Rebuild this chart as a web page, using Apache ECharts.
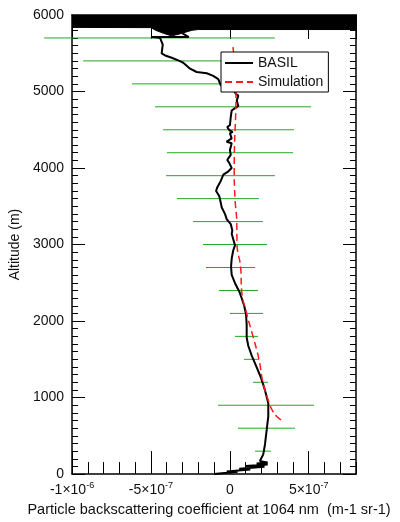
<!DOCTYPE html>
<html>
<head>
<meta charset="utf-8">
<script src="https://cdn.jsdelivr.net/npm/echarts@6/dist/echarts.min.js"></script>
<style>
html,body{margin:0;padding:0;background:#fff;}
#chart{width:400px;height:522px;}
</style>
</head>
<body>
<div id="chart"></div>
<script>
// ---------------- DATA ----------------
// BASIL profile: altitude (m) and backscatter (m-1 sr-1)
var basilAlt = [5760, 5712, 5714, 5705, 5700, 5613, 5497, 5471, 5441, 5397, 5376, 5299, 5255, 5239, 5204, 5161, 5084, 5050, 5023, 4968, 4946, 4881, 4809, 4783, 4752, 4667, 4559, 4538, 4494, 4473, 4452, 4387, 4344, 4323, 4236, 4172, 4107, 4065, 4000, 3957, 3914, 3828, 3750, 3699, 3635, 3591, 3484, 3397, 3333, 3268, 3183, 3140, 2989, 2925, 2817, 2710, 2603, 2495, 2387, 2301, 2194, 2086, 1957, 1785, 1677, 1548, 1419, 1269, 1097, 925, 753, 581, 387, 258, 172, 150, 140, 125, 105, 95, 70, 60, 35, 30, 10, 0];
var basilVal = [-3.0e-7, -2.6e-7, -5.0e-7, -4.6e-7, -4.42e-7, -4.25e-7, -4.32e-7, -4.1e-7, -3.68e-7, -3.16e-7, -2.95e-7, -2.52e-7, -2.10e-7, -1.46e-7, -1.05e-7, -0.73e-7, -0.58e-7, -0.2e-7, 0.22e-7, 0.39e-7, 0.54e-7, 0.44e-7, 0.54e-7, 0.33e-7, 0.12e-7, 0.06e-7, 0.01e-7, -0.16e-7, -0.03e-7, 0.18e-7, 0.01e-7, 0.12e-7, -0.20e-7, 0.12e-7, 0.01e-7, 0.06e-7, -0.16e-7, -0.03e-7, 0.12e-7, -0.09e-7, -0.41e-7, -0.58e-7, -0.79e-7, -0.87e-7, -0.67e-7, -0.62e-7, -0.51e-7, -0.30e-7, -0.20e-7, 0.06e-7, 0.16e-7, 0.12e-7, 0.33e-7, 0.22e-7, 0.12e-7, 0.08e-7, 0.12e-7, 0.33e-7, 0.60e-7, 0.75e-7, 0.92e-7, 1.03e-7, 1.07e-7, 1.07e-7, 1.17e-7, 1.39e-7, 1.66e-7, 1.96e-7, 2.23e-7, 2.44e-7, 2.44e-7, 2.34e-7, 2.23e-7, 2.12e-7, 1.91e-7, 2.4e-7, 1.7e-7, 2.4e-7, 1.0e-7, 2.2e-7, 0.6e-7, 1.3e-7, -0.2e-7, 0.5e-7, -0.5e-7, -1.0e-7];

// Saturated (noisy) BASIL region near the top: outline of the black band
var bandAlt = [6000, 6000, 5810, 5810, 5800, 5745, 5728, 5760, 5800, 5835, 5838];
var bandVal = [-1.0e-6, 8.0e-7, 8.0e-7, -2.0e-7, -2.4e-7, -3.3e-7, -3.7e-7, -4.2e-7, -4.7e-7, -5.0e-7, -1.0e-6];

// Simulation profile
var simAlt = [5580, 5000, 4000, 3600, 3300, 3000, 2700, 2400, 2100, 1800, 1500, 1200, 900, 817, 750, 680];
var simVal = [0.2e-7, 0.39e-7, 0.28e-7, 0.33e-7, 0.44e-7, 0.46e-7, 0.69e-7, 0.75e-7, 1.07e-7, 1.47e-7, 1.85e-7, 2.10e-7, 2.55e-7, 2.74e-7, 3.0e-7, 3.43e-7];

// Error bars (horizontal): altitude, lower, upper
var errAlt   = [5700, 5400, 5100, 4800, 4500, 4200, 3900, 3600, 3300, 3000, 2700, 2400, 2100, 1800, 1500, 1200, 900, 600, 300];
var errLower = [-11.77e-7, -9.30e-7, -6.20e-7, -4.74e-7, -4.23e-7, -3.98e-7, -4.04e-7, -3.35e-7, -2.33e-7, -1.70e-7, -1.51e-7, -0.68e-7, 0.01e-7, 0.33e-7, 0.90e-7, 1.47e-7, -0.75e-7, 0.52e-7, 1.60e-7];
var errUpper = [2.86e-7, 3.24e-7, 4.96e-7, 5.15e-7, 4.07e-7, 4.01e-7, 2.86e-7, 1.85e-7, 2.10e-7, 2.36e-7, 1.60e-7, 1.79e-7, 2.10e-7, 1.79e-7, 1.85e-7, 2.42e-7, 5.34e-7, 4.13e-7, 2.61e-7];

// Axis ticks
var xMin = -1.0e-6, xMax = 8.0e-7;
var yMin = 0, yMax = 6000;
var xTickValues = [-1.0e-6, -5.0e-7, 0, 5.0e-7];
var xTickLabels = ['-1×10^-6', '-5×10^-7', '0', '5×10^-7'];
var yTickLabels = ['0', '1000', '2000', '3000', '4000', '5000', '6000'];

// ---------------- CHART ----------------
var FONT = '"Liberation Sans", Arial, Helvetica, sans-serif';
var chart = echarts.init(document.getElementById('chart'), null, {renderer: 'canvas'});

function zip(a, b) { return a.map(function (v, i) { return [v, b[i]]; }); }

function xLabel(v) {
  for (var i = 0; i < xTickValues.length; i++) {
    if (Math.abs(v - xTickValues[i]) < 1e-12) {
      var s = xTickLabels[i];
      var p = s.indexOf('^');
      if (p < 0) return '{b|' + s + '}';
      return '{b|' + s.slice(0, p) + '}{sup|' + s.slice(p + 1) + '}';
    }
  }
  return '';
}

var axisColor = '#000';
var baseX = {type: 'value', min: xMin, max: xMax, splitLine: {show: false}};
var baseY = {type: 'value', min: yMin, max: yMax, splitLine: {show: false}};

var option = {
  backgroundColor: '#fff',
  animation: false,
  grid: {left: 72, right: 44, top: 15, bottom: 42, containLabel: false},
  legend: {
    data: ['BASIL', 'Simulation'],
    orient: 'vertical',
    left: 221, top: 52,
    backgroundColor: '#fff',
    borderColor: '#000', borderWidth: 1,
    padding: [4, 5, 3, 3],
    itemWidth: 28, itemHeight: 13, itemGap: 5,
    itemStyle: {opacity: 0},
    textStyle: {fontFamily: FONT, fontSize: 14, color: '#111', padding: [0, 0, 0, 0]},
    z: 20
  },
  xAxis: [
    Object.assign({}, baseX, {
      position: 'bottom', interval: 5e-7,
      axisLine: {show: true, onZero: false, lineStyle: {color: axisColor, width: 1.5}},
      axisTick: {show: true, inside: true, length: 23, lineStyle: {color: axisColor, width: 1}},
      axisLabel: {
        show: true, margin: 7, formatter: xLabel, showMaxLabel: false,
        rich: {
          b: {fontFamily: FONT, fontSize: 14, color: '#111', lineHeight: 16, verticalAlign: 'bottom'},
          sup: {fontFamily: FONT, fontSize: 9, color: '#111', lineHeight: 16, verticalAlign: 'top', padding: [0, 0, 6, 0]}
        }
      },
      name: 'Particle backscattering coefficient at 1064 nm  (m-1 sr-1)',
      nameLocation: 'middle', nameGap: 25,
      nameTextStyle: {fontFamily: FONT, fontSize: 14.5, color: '#111', padding: [0, 10, 0, 0]}
    }),
    Object.assign({}, baseX, {
      position: 'bottom', interval: 1e-7,
      axisLine: {show: false, onZero: false},
      axisTick: {show: true, inside: true, length: 12, lineStyle: {color: axisColor, width: 1}},
      axisLabel: {show: false}
    }),
    Object.assign({}, baseX, {
      position: 'top', interval: 5e-7,
      axisLine: {show: true, onZero: false, lineStyle: {color: axisColor, width: 1.5}},
      axisTick: {show: true, inside: true, length: 24, lineStyle: {color: axisColor, width: 1}},
      axisLabel: {show: false}
    }),
    Object.assign({}, baseX, {
      position: 'top', interval: 1e-7,
      axisLine: {show: false, onZero: false},
      axisTick: {show: true, inside: true, length: 12, lineStyle: {color: axisColor, width: 1}},
      axisLabel: {show: false}
    })
  ],
  yAxis: [
    Object.assign({}, baseY, {
      position: 'left', interval: 1000,
      axisLine: {show: true, onZero: false, lineStyle: {color: axisColor, width: 1.5}},
      axisTick: {show: true, inside: true, length: 13, lineStyle: {color: axisColor, width: 1}},
      minorTick: {show: true, splitNumber: 10, length: 6, lineStyle: {color: axisColor, width: 1}},
      axisLabel: {
        show: true, margin: 8, fontFamily: FONT, fontSize: 14, color: '#111',
        formatter: function (v) { return yTickLabels[Math.round(v / 1000)] || ''; }
      },
      name: 'Altitude (m)', nameLocation: 'middle', nameGap: 50, nameRotate: 90,
      nameTextStyle: {fontFamily: FONT, fontSize: 14, color: '#111'}
    }),
    Object.assign({}, baseY, {
      position: 'right', interval: 1000,
      axisLine: {show: true, onZero: false, lineStyle: {color: axisColor, width: 1.5}},
      axisTick: {show: true, inside: true, length: 13, lineStyle: {color: axisColor, width: 1}},
      minorTick: {show: true, splitNumber: 10, length: 6, lineStyle: {color: axisColor, width: 1}},
      axisLabel: {show: false}
    })
  ],
  series: [
    {
      name: 'errorbars', type: 'custom', xAxisIndex: 0, yAxisIndex: 0, clip: false, z: 1,
      silent: true,
      data: errAlt.map(function (a, i) { return [errLower[i], errUpper[i], a]; }),
      encode: {x: [0, 1], y: 2},
      renderItem: function (params, api) {
        var p1 = api.coord([api.value(0), api.value(2)]);
        var p2 = api.coord([api.value(1), api.value(2)]);
        return {type: 'line', shape: {x1: p1[0], y1: p1[1], x2: p2[0], y2: p2[1]},
                style: {stroke: '#22a822', lineWidth: 1}};
      }
    },
    {
      name: 'band', type: 'custom', xAxisIndex: 0, yAxisIndex: 0, clip: true, z: 3, silent: true,
      data: [[bandVal[0], bandAlt[0]]],
      renderItem: function (params, api) {
        var pts = bandVal.map(function (v, i) { return api.coord([v, bandAlt[i]]); });
        return {type: 'polygon', shape: {points: pts}, style: {fill: '#000', stroke: '#000', lineWidth: 1}};
      }
    },
    {
      name: 'BASIL', type: 'line', xAxisIndex: 0, yAxisIndex: 0, z: 4,
      data: zip(basilVal, basilAlt), symbol: 'none', smooth: false,
      lineStyle: {color: '#000', width: 2}, itemStyle: {color: '#000'}
    },
    {
      name: 'Simulation', type: 'line', xAxisIndex: 0, yAxisIndex: 0, z: 5,
      data: zip(simVal, simAlt), symbol: 'none', smooth: true,
      lineStyle: {color: '#ff1a1a', width: 1.5, type: [7, 4]}, itemStyle: {color: '#ff1a1a'}
    }
  ]
};
chart.setOption(option);
</script>
</body>
</html>
